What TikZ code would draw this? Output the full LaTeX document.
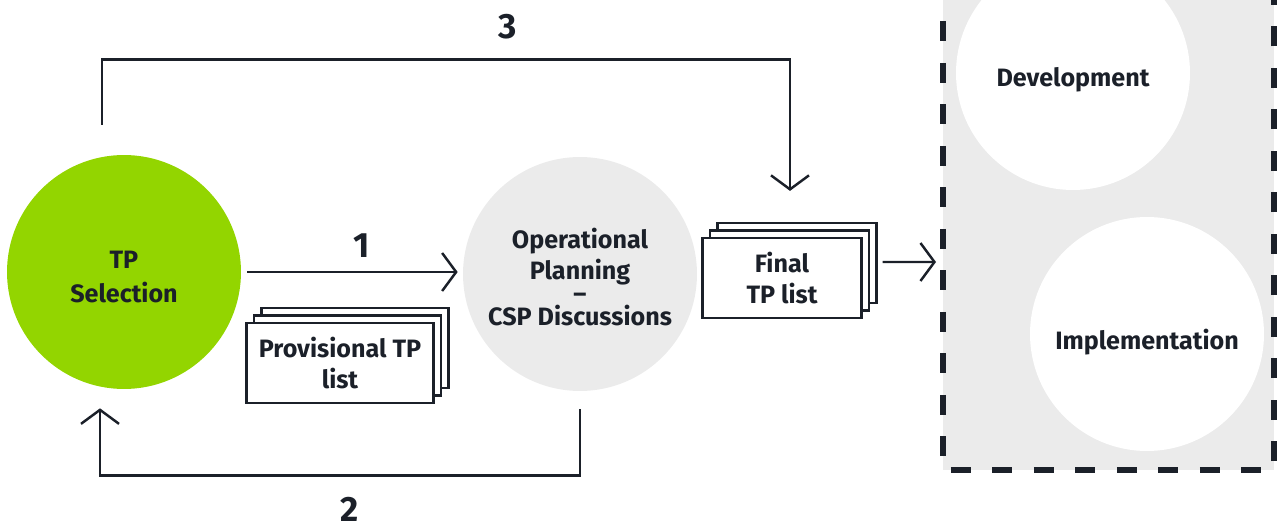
\documentclass[tikz,border=0pt]{standalone}
\usepackage{fontspec}
\setmainfont{Fira Sans}
\usepackage{xcolor}
\usetikzlibrary{arrows.meta,shadows}
\definecolor{ink}{HTML}{1B2029}
\definecolor{limeGreen}{HTML}{93D500}
\definecolor{paleGrey}{HTML}{EBEBEB}

\begin{document}
\begin{tikzpicture}[x=0.02cm,y=-0.02cm,
		txt/.style={text=ink,font=\bfseries\fontsize{14.3}{17.6}\selectfont,align=center},
		blob/.style={circle,minimum size=4.68cm,inner sep=0pt},
		stack/.style={draw=ink,fill=white,line width=1.3pt,txt,inner sep=0pt,minimum height=1.6cm,
			double copy shadow={shadow xshift=0.15cm,shadow yshift=0.15cm,draw=ink,fill=white,line width=1.3pt}},
		num/.style={text=ink,font=\bfseries\fontsize{20}{24}\selectfont},
		flow/.style={draw=ink,line width=1.4pt,-{Straight Barb[length=0.28cm,width=0.76cm]}}]
		\useasboundingbox (0,0) rectangle (1279,530);
		
		\fill[paleGrey] (943,-20) rectangle (1274,470);
		\draw[ink,line width=3pt,dash pattern=on 0.4cm off 0.43cm] (943,-20) -- (943,470) -- (1274,470) -- (1274,-20);
		\coordinate (boxin) at (936,262);
		
		\node[blob,fill=limeGreen] (sel) at (124,272) {};
		\node[blob,fill=paleGrey] (ops) at (580,274) {};
		\node[blob,fill=white] (dev) at (1073,73) {};
		\node[blob,fill=white] (imp) at (1147,334) {};
		
		\node[txt] (selText) at ([yshift=-0.1cm]sel.center) {TP\\[1.6pt]Selection};
		\node[txt] (opsText) at ([yshift=-0.06cm]ops.center) {Operational\\Planning\\[-4.5pt]--\\[-4.5pt]CSP Discussions};
		\node[txt] (devText) at ([yshift=-0.14cm]dev.center) {Development};
		\node[txt] (impText) at ([yshift=-0.16cm]imp.center) {Implementation};
		
		\node[stack,minimum width=3.74cm] (prov) at (340,363) {Provisional TP\\list};
		\node[stack,minimum width=3.18cm] (final) at (782,278) {Final\\TP list};
		
		\draw[flow] ([xshift=0.12cm]sel.east) -- ([xshift=-0.1cm]sel.east -| ops.west);
		\draw[flow] ([yshift=-0.36cm]ops.south) -- ++(0,66) -| ([xshift=-0.48cm,yshift=-0.38cm]sel.south);
		\draw[flow] ([xshift=-0.44cm,yshift=0.6cm]sel.north) -- ++(0,-65) -| ([xshift=0.16cm,yshift=0.92cm]final.north);
		\draw[flow] ([xshift=0.4cm,yshift=0.32cm]final.east) -- (boxin);
		
		\node[num] (one) at (362,246) {1};
		\node[num] (two) at (350,509) {2};
		\node[num] (three) at (508,27) {3};
\end{tikzpicture}
\end{document}
